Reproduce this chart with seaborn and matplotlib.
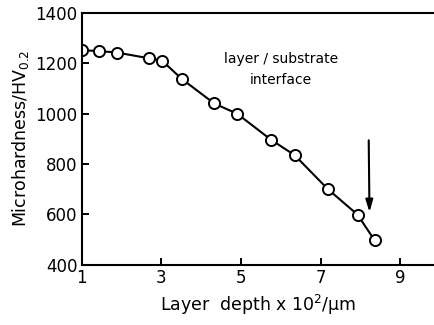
import numpy as np
import pandas as pd
import matplotlib
matplotlib.use("Agg")
import matplotlib.pyplot as plt
import seaborn as sns

# values
depth = [1.0, 1.43, 1.88, 2.70, 3.02, 3.51, 4.33, 4.91, 5.75, 6.35, 7.18, 7.93, 8.36]
hardness = [1251, 1248, 1242, 1219, 1210, 1138, 1040, 999, 897, 835, 701, 599, 497]
xticks = [1, 3, 5, 7, 9]
yticks = [400, 600, 800, 1000, 1200, 1400]

df = pd.DataFrame({"depth": depth, "hardness": hardness})

sns.set_style("ticks")
plt.rcParams['font.family'] = ['DejaVu Sans']
plt.rcParams['text.color'] = 'black'
plt.rcParams['axes.labelcolor'] = 'black'

fig = plt.figure(figsize=(4.34, 3.25), dpi=100)
ax = fig.add_axes([0.188, 0.185, 0.812, 0.776])

sns.lineplot(data=df, x="depth", y="hardness", ax=ax, color="black",
             linewidth=1.5, marker="o", markersize=8,
             markerfacecolor="white", markeredgecolor="black",
             markeredgewidth=1.4)

ax.set_xlim(1, 9.85)
ax.set_ylim(400, 1400)
ax.set_xticks(xticks)
ax.set_yticks(yticks)
ax.tick_params(direction="in", length=5, width=1.4, labelsize=12,
               colors="black", pad=3)
for s in ["left", "bottom", "top"]:
    ax.spines[s].set_linewidth(1.5)
    ax.spines[s].set_color("black")
ax.spines["right"].set_visible(False)

ax.set_xlabel(r"Layer  depth x 10$^{2}$/$\mathrm{\mu}$m", fontsize=12.5, labelpad=4)
ax.set_ylabel(r"Microhardness/HV$_{0.2}$", fontsize=12.5, labelpad=3)

ax.text(6.0, 1218, "layer / substrate", ha="center", va="center", fontsize=10)
ax.text(6.0, 1132, "interface", ha="center", va="center", fontsize=10)
ax.annotate("", xy=(8.23, 598), xytext=(8.21, 905),
            arrowprops=dict(arrowstyle="-|>,head_width=0.18,head_length=0.6",
                            color="black", lw=1.5, mutation_scale=12))

fig.savefig("out.png", dpi=100)
